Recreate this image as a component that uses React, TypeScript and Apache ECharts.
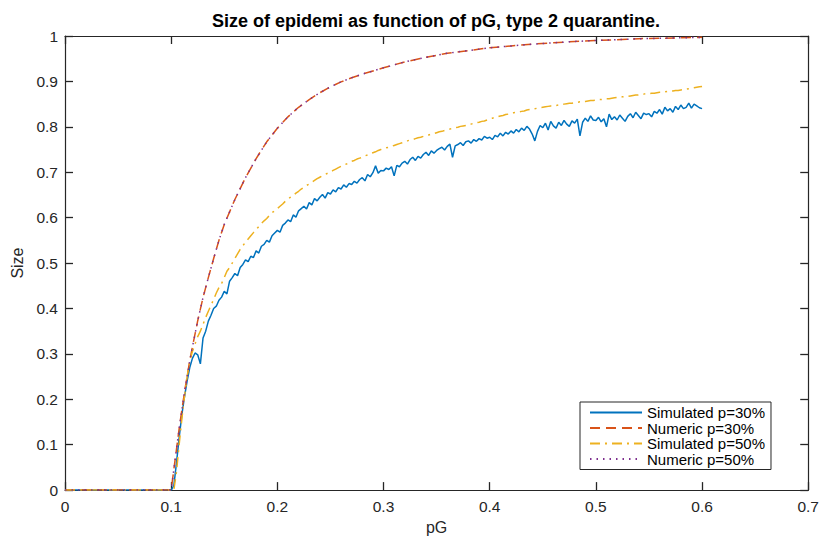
import { useEffect, useRef } from "react";
import * as echarts from "echarts";

// pG grid of the simulations: 0, 0.0025, ..., 0.6
const simStep = 0.0025;

// Simulated p=30%
const sim30: number[] = [
  0, 0, 0, 0, 0, 0, 0, 0, 0, 0, 0, 0, 0, 0, 0, 0, 0, 0, 0, 0,
  0, 0, 0, 0, 0, 0, 0, 0, 0, 0, 0, 0, 0, 0, 0, 0, 0, 0, 0, 0,
  0, 0.01, 0.06, 0.115, 0.165, 0.205, 0.24, 0.27, 0.29, 0.302, 0.298, 0.278, 0.335, 0.35, 0.372, 0.385, 0.4, 0.405, 0.418, 0.425,
  0.438, 0.432, 0.46, 0.468, 0.477, 0.472, 0.49, 0.497, 0.507, 0.503, 0.515, 0.512, 0.527, 0.522, 0.537, 0.541, 0.55, 0.546, 0.56, 0.566,
  0.572, 0.568, 0.583, 0.588, 0.595, 0.591, 0.606, 0.601, 0.615, 0.62, 0.625, 0.619, 0.633, 0.628, 0.642, 0.637, 0.645, 0.651, 0.643, 0.655,
  0.652, 0.661, 0.657, 0.666, 0.663, 0.672, 0.667, 0.675, 0.673, 0.68, 0.676, 0.684, 0.688, 0.681, 0.695, 0.69, 0.699, 0.714, 0.698, 0.704,
  0.703, 0.709, 0.706, 0.712, 0.692, 0.715, 0.712, 0.72, 0.724, 0.718, 0.728, 0.733, 0.726, 0.735, 0.731, 0.739, 0.744, 0.737, 0.747, 0.742,
  0.748, 0.752, 0.755, 0.749, 0.757, 0.762, 0.733, 0.758, 0.761, 0.765, 0.759, 0.767, 0.769, 0.764, 0.772, 0.768, 0.774, 0.771, 0.779, 0.775,
  0.777, 0.772, 0.781, 0.778, 0.786, 0.78, 0.788, 0.784, 0.791, 0.786, 0.794, 0.789, 0.797, 0.792, 0.801, 0.795, 0.784, 0.769, 0.79, 0.803,
  0.798, 0.808, 0.793, 0.812, 0.802, 0.797, 0.81, 0.803, 0.814, 0.806, 0.801, 0.813, 0.808, 0.817, 0.78, 0.81, 0.819, 0.812, 0.824, 0.815,
  0.814, 0.821, 0.811, 0.818, 0.8, 0.828, 0.816, 0.822, 0.815, 0.826, 0.819, 0.812, 0.823, 0.829, 0.82, 0.832, 0.825, 0.818, 0.83, 0.827,
  0.829, 0.822, 0.834, 0.83, 0.838, 0.828, 0.843, 0.835, 0.84, 0.832, 0.845, 0.838, 0.848, 0.84, 0.843, 0.852, 0.841, 0.85, 0.846, 0.842,
  0.84,
];

// Simulated p=50%
const sim50: number[] = [
  0, 0, 0, 0, 0, 0, 0, 0, 0, 0, 0, 0, 0, 0, 0, 0, 0, 0, 0, 0,
  0, 0, 0, 0, 0, 0, 0, 0, 0, 0, 0, 0, 0, 0, 0, 0, 0, 0, 0, 0,
  0, 0, 0.04, 0.1, 0.155, 0.205, 0.25, 0.285, 0.305, 0.322, 0.338, 0.35, 0.365, 0.38, 0.394, 0.407, 0.42, 0.434, 0.446, 0.455,
  0.468, 0.482, 0.49, 0.5, 0.51, 0.52, 0.53, 0.538, 0.546, 0.553, 0.56, 0.567, 0.574, 0.58, 0.587, 0.593, 0.598, 0.605, 0.611, 0.615,
  0.62, 0.625, 0.63, 0.636, 0.641, 0.645, 0.649, 0.654, 0.658, 0.663, 0.667, 0.671, 0.674, 0.678, 0.682, 0.686, 0.689, 0.692, 0.695, 0.698,
  0.701, 0.704, 0.707, 0.71, 0.713, 0.716, 0.718, 0.721, 0.724, 0.726, 0.729, 0.731, 0.733, 0.736, 0.738, 0.741, 0.743, 0.745, 0.748, 0.75,
  0.752, 0.754, 0.755, 0.757, 0.759, 0.761, 0.763, 0.765, 0.767, 0.769, 0.771, 0.772, 0.774, 0.776, 0.777, 0.779, 0.781, 0.782, 0.784, 0.785,
  0.787, 0.789, 0.79, 0.792, 0.793, 0.795, 0.796, 0.798, 0.799, 0.801, 0.802, 0.803, 0.805, 0.806, 0.808, 0.809, 0.81, 0.812, 0.813, 0.815,
  0.817, 0.819, 0.821, 0.822, 0.824, 0.825, 0.827, 0.828, 0.829, 0.831, 0.832, 0.833, 0.834, 0.835, 0.837, 0.838, 0.839, 0.84, 0.841, 0.842,
  0.843, 0.844, 0.845, 0.846, 0.847, 0.847, 0.848, 0.849, 0.85, 0.851, 0.852, 0.852, 0.853, 0.854, 0.855, 0.855, 0.856, 0.857, 0.858, 0.858,
  0.859, 0.86, 0.86, 0.861, 0.862, 0.862, 0.863, 0.864, 0.865, 0.865, 0.866, 0.867, 0.867, 0.868, 0.869, 0.87, 0.87, 0.871, 0.872, 0.873,
  0.873, 0.874, 0.874, 0.875, 0.876, 0.876, 0.877, 0.878, 0.878, 0.879, 0.88, 0.88, 0.881, 0.882, 0.883, 0.884, 0.885, 0.886, 0.887, 0.888,
  0.889,
];

// Numeric solutions
const numX: number[] = [
  0, 0.1, 0.1025, 0.105, 0.1075, 0.11, 0.1125, 0.115, 0.1175, 0.12, 0.125, 0.13, 0.135, 0.14, 0.145, 0.15,
  0.16, 0.17, 0.18, 0.19, 0.2, 0.21, 0.22, 0.23, 0.24, 0.25, 0.26, 0.27, 0.28, 0.29, 0.3,
  0.32, 0.34, 0.36, 0.38, 0.4, 0.42, 0.44, 0.46, 0.48, 0.5, 0.52, 0.54, 0.56, 0.58, 0.6,
];
const num30: number[] = [
  0, 0, 0.045, 0.09, 0.135, 0.175, 0.215, 0.25, 0.285, 0.315, 0.373, 0.424, 0.468, 0.51, 0.55, 0.585,
  0.64, 0.688, 0.73, 0.767, 0.797, 0.822, 0.843, 0.86, 0.875, 0.888, 0.899, 0.908, 0.916, 0.923, 0.93,
  0.943, 0.953, 0.962, 0.968, 0.974, 0.978, 0.982, 0.985, 0.988, 0.99, 0.992, 0.994, 0.995, 0.996, 0.997,
];
const num50: number[] = [
  0, 0, 0.045, 0.09, 0.135, 0.175, 0.215, 0.25, 0.285, 0.315, 0.373, 0.424, 0.468, 0.51, 0.55, 0.585,
  0.64, 0.688, 0.73, 0.767, 0.797, 0.822, 0.843, 0.86, 0.875, 0.888, 0.899, 0.908, 0.916, 0.923, 0.93,
  0.943, 0.953, 0.962, 0.968, 0.974, 0.978, 0.982, 0.985, 0.988, 0.99, 0.992, 0.994, 0.995, 0.996, 0.997,
];

const seriesNames = ["Simulated p=30%", "Numeric p=30%", "Simulated p=50%", "Numeric p=50%"];
const titleText = "Size of epidemi as function of pG, type 2 quarantine.";
const xName = "pG";
const yName = "Size";

const FONT = "'Liberation Sans', Arial, Helvetica, sans-serif";
const AX = "#262626";

export default function App() {
  const ref = useRef<HTMLDivElement>(null);
  useEffect(() => {
    if (!ref.current) return;
    const chart = echarts.init(ref.current, null, { renderer: "svg" });
    const simPairs = (vals: number[]) => vals.map((v, i) => [i * simStep, v]);
    const numPairs = (vals: number[]) => vals.map((v, i) => [numX[i], v]);
    const axisCommon = {
      type: "value" as const,
      axisLine: { show: true, onZero: false, lineStyle: { color: AX, width: 1.2 } },
      axisTick: { show: true, inside: true, length: 8, lineStyle: { color: AX, width: 1.3 } },
      splitLine: { show: false },
    };
    chart.setOption({
      animation: false,
      backgroundColor: "#ffffff",
      textStyle: { fontFamily: FONT },
      graphic: [
        {
          type: "text",
          x: 436,
          y: 21,
          style: {
            text: titleText,
            fontFamily: FONT,
            fontSize: 18,
            fontWeight: "bold",
            fill: "#000",
            align: "center",
            verticalAlign: "middle",
          },
        },
      ],
      grid: { left: 65, right: 12, top: 36, bottom: 46, containLabel: false },
      legend: {
        orient: "vertical",
        left: 580,
        top: 402,
        data: seriesNames,
        backgroundColor: "#fff",
        borderColor: AX,
        borderWidth: 1,
        padding: [3, 6, 3, 9],
        itemWidth: 52,
        itemHeight: 14,
        itemGap: 0.5,
        selectedMode: false,
        itemStyle: { opacity: 0 },
        textStyle: { fontFamily: FONT, fontSize: 15, color: "#000", padding: [0, 0, 0, 0] },
      },
      xAxis: [
        {
          ...axisCommon,
          min: 0,
          max: 0.7,
          interval: 0.1,
          position: "bottom",
          name: xName,
          nameLocation: "middle",
          nameGap: 15,
          nameTextStyle: { fontFamily: FONT, fontSize: 16, color: AX, verticalAlign: "top" },
          axisLabel: { color: AX, fontSize: 15.5, fontFamily: FONT, margin: 8 },
        },
        {
          ...axisCommon,
          min: 0,
          max: 0.7,
          interval: 0.1,
          position: "top",
          axisLabel: { show: false },
        },
      ],
      yAxis: [
        {
          ...axisCommon,
          min: 0,
          max: 1,
          interval: 0.1,
          position: "left",
          name: yName,
          nameLocation: "middle",
          nameGap: 37,
          nameTextStyle: { fontFamily: FONT, fontSize: 16, color: AX },
          axisLabel: { color: AX, fontSize: 15.5, fontFamily: FONT, margin: 7 },
        },
        {
          ...axisCommon,
          min: 0,
          max: 1,
          interval: 0.1,
          position: "right",
          axisLabel: { show: false },
        },
      ],
      series: [
        {
          name: seriesNames[0],
          type: "line",
          data: simPairs(sim30),
          symbol: "none",
          xAxisIndex: 0,
          yAxisIndex: 0,
          lineStyle: { color: "#0072BD", width: 1.5 },
          itemStyle: { color: "#0072BD" },
        },
        {
          name: seriesNames[1],
          type: "line",
          data: numPairs(num30),
          symbol: "none",
          xAxisIndex: 0,
          yAxisIndex: 0,
          lineStyle: { color: "#D95319", width: 1.5, type: [10, 6] },
          itemStyle: { color: "#D95319" },
        },
        {
          name: seriesNames[2],
          type: "line",
          data: simPairs(sim50),
          symbol: "none",
          xAxisIndex: 0,
          yAxisIndex: 0,
          lineStyle: { color: "#EDB120", width: 1.5, type: [10, 5, 2, 5] },
          itemStyle: { color: "#EDB120" },
        },
        {
          name: seriesNames[3],
          type: "line",
          data: numPairs(num50),
          symbol: "none",
          xAxisIndex: 0,
          yAxisIndex: 0,
          lineStyle: { color: "#7E2F8E", width: 1.5, type: [1.5, 5] },
          itemStyle: { color: "#7E2F8E" },
        },
      ],
    });
    return () => chart.dispose();
  }, []);
  return <div ref={ref} style={{ width: 822, height: 540, position: "absolute", left: 0, top: 0 }} />;
}
